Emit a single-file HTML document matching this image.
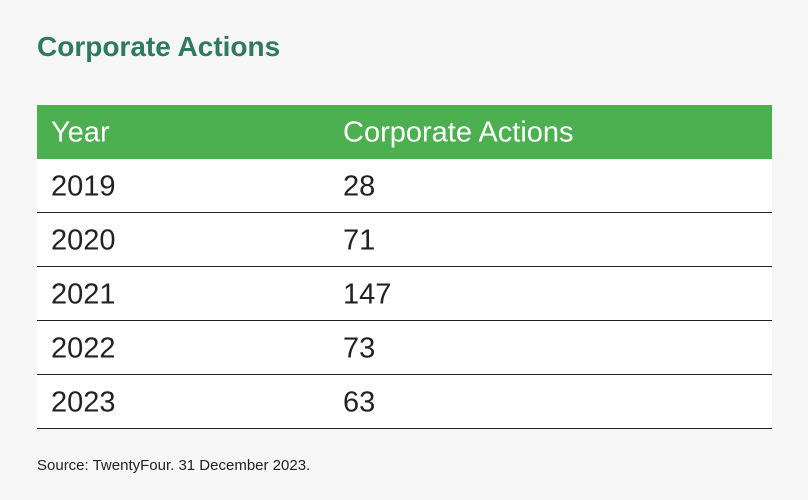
<!DOCTYPE html>
<html><head><meta charset="utf-8"><style>
body{margin:0;width:808px;height:500px;background:#f6f6f6;font-family:"Liberation Sans",sans-serif;position:relative;overflow:hidden}
.title{position:absolute;left:37px;top:31px;font-size:28px;font-weight:bold;color:#2e7a5c;letter-spacing:0px}
.tbl{position:absolute;left:37px;top:105px;width:735px}
.row{position:relative;height:53px;background:#fff;border-bottom:1px solid #222;font-size:29px;color:#222}
.row.h{height:54px;background:#4caf50;color:#fff;border-bottom:none}
.row span{position:absolute;top:52%;transform:translateY(-50%)}
.c1{left:14px}.c2{left:306px}
.src{position:absolute;left:37px;top:457px;font-size:15px;color:#222}
</style></head><body>
<div class="title">Corporate Actions</div>
<div class="tbl" id="tbl">
<div class="row h"><span class="c1">Year</span><span class="c2">Corporate Actions</span></div>
</div>
<div class="src">Source: TwentyFour. 31 December 2023.</div>
<script>
const years=["2019","2020","2021","2022","2023"];
const actions=[28,71,147,73,63];
const tbl=document.getElementById('tbl');
years.forEach((y,i)=>{
const r=document.createElement('div');r.className='row';


const a=document.createElement('span');a.className='c1';a.textContent=y;


const b=document.createElement('span');b.className='c2';b.textContent=actions[i];


r.appendChild(a);r.appendChild(b);tbl.appendChild(r);
});
</script>
</body></html>
